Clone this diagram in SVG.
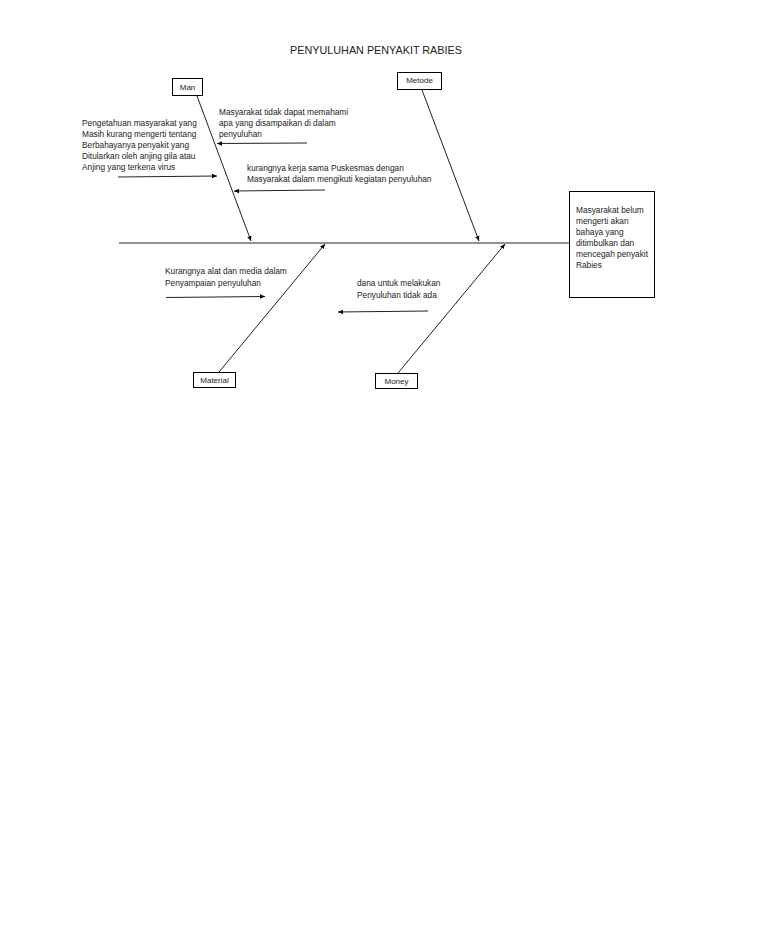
<svg xmlns="http://www.w3.org/2000/svg" width="768" height="932" viewBox="0 0 768 932">
<style>
text{font-family:"Liberation Sans",Arial,sans-serif;fill:#222;font-size:8.3px}
.t{font-size:10.8px}
.box{fill:#fff;stroke:#000;stroke-width:1}
.ln{stroke:#222;stroke-width:1;fill:none}
.lbl{text-anchor:middle;font-size:8px}
</style>
<defs>
<marker id="ah" markerWidth="6" markerHeight="6" refX="5" refY="3" orient="auto" markerUnits="userSpaceOnUse">
<path d="M0,0.8 L5,3 L0,5.2 Z" fill="#000"/>
</marker>
</defs>
<rect width="768" height="932" fill="#fff"/>
<text class="t" x="376" y="54" text-anchor="middle">PENYULUHAN PENYAKIT RABIES</text>
<g id="connectors">
<line class="ln" x1="119" y1="243" x2="569" y2="243"/>
<line class="ln" x1="197" y1="96" x2="251" y2="241" marker-end="url(#ah)"/>
<line class="ln" x1="422" y1="90" x2="479" y2="241" marker-end="url(#ah)"/>
<line class="ln" x1="219" y1="372" x2="325" y2="244" marker-end="url(#ah)"/>
<line class="ln" x1="398" y1="373" x2="505" y2="244" marker-end="url(#ah)"/>
<line class="ln" x1="307" y1="143" x2="217" y2="143.5" marker-end="url(#ah)"/>
<line class="ln" x1="118" y1="177" x2="217" y2="176" marker-end="url(#ah)"/>
<line class="ln" x1="325" y1="190" x2="234" y2="191" marker-end="url(#ah)"/>
<line class="ln" x1="166" y1="297.5" x2="265" y2="296.5" marker-end="url(#ah)"/>
<line class="ln" x1="428" y1="311" x2="338" y2="312" marker-end="url(#ah)"/>
</g>
<g id="man">
<rect class="box" x="172.5" y="78.5" width="30" height="17"/>
<text class="lbl" x="187.5" y="89.5">Man</text>
</g>
<g id="metode">
<rect class="box" x="397.5" y="72.5" width="44" height="17"/>
<text class="lbl" x="419.5" y="83">Metode</text>
</g>
<g id="material">
<rect class="box" x="193.5" y="372.5" width="42" height="15"/>
<text class="lbl" x="214.5" y="382.5">Material</text>
</g>
<g id="money">
<rect class="box" x="375.5" y="373.5" width="42" height="15"/>
<text class="lbl" x="396.5" y="384">Money</text>
</g>
<g id="effect">
<rect class="box" x="569.5" y="191.5" width="85" height="106"/>
<text x="576" y="213">Masyarakat belum</text>
<text x="576" y="224">mengerti akan</text>
<text x="576" y="235">bahaya yang</text>
<text x="576" y="245.5">ditimbulkan dan</text>
<text x="576" y="256.5">mencegah penyakit</text>
<text x="576" y="267.5">Rabies</text>
</g>
<g id="cause-man-1">
<text x="82" y="126">Pengetahuan masyarakat yang</text>
<text x="82" y="137">Masih kurang mengerti tentang</text>
<text x="82" y="148">Berbahayanya penyakit yang</text>
<text x="82" y="159">Ditularkan oleh anjing gila atau</text>
<text x="82" y="170">Anjing yang terkena virus</text>
</g>
<g id="cause-man-2">
<text x="219" y="115">Masyarakat tidak dapat memahami</text>
<text x="219" y="126">apa yang disampaikan di dalam</text>
<text x="219" y="137">penyuluhan</text>
</g>
<g id="cause-metode">
<text x="247" y="171">kurangnya kerja sama Puskesmas dengan</text>
<text x="247" y="182">Masyarakat dalam mengikuti kegiatan penyuluhan</text>
</g>
<g id="cause-material">
<text x="165" y="274">Kurangnya alat dan media dalam</text>
<text x="165" y="285.5">Penyampaian penyuluhan</text>
</g>
<g id="cause-money">
<text x="357" y="286">dana untuk melakukan</text>
<text x="357" y="297.5">Penyuluhan tidak ada</text>
</g>
</svg>
